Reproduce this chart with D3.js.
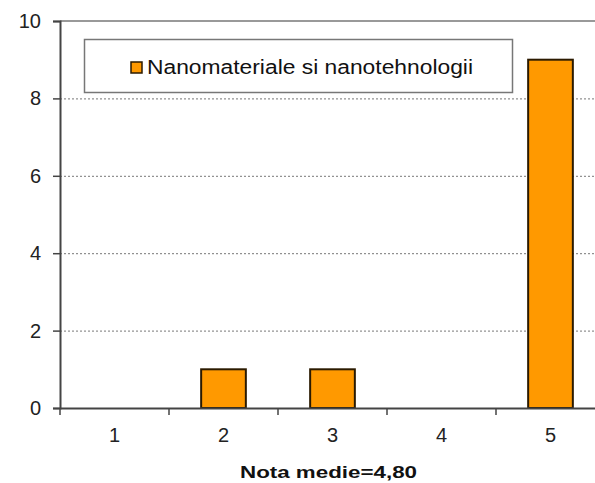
<!DOCTYPE html>
<html>
<head>
<meta charset="utf-8">
<script src="https://cdn.jsdelivr.net/npm/d3@7"></script>
<style>
  body { margin: 0; background: #fff; }
  svg { display: block; font-family: "Liberation Sans", Arial, sans-serif; }
</style>
</head>
<body>
<svg id="chart" width="595" height="483"></svg>
<script>
// chart data
const categories = ['1', '2', '3', '4', '5'];
const counts = [0, 1, 1, 0, 9];
const yTicks = [0, 2, 4, 6, 8, 10];
const seriesName = 'Nanomateriale si nanotehnologii';
const xTitle = 'Nota medie=4,80';

const svg = d3.select('#chart');
const plotLeft = 60, plotTop = 21, plotBottom = 408, plotRight = 605;

const x = d3.scaleBand().domain(categories).range([plotLeft, plotRight]).paddingInner(0.59).paddingOuter(0.295);
const xEdges = d3.scaleBand().domain(categories).range([plotLeft, plotRight]).padding(0);
const y = d3.scaleLinear().domain([0, 10]).range([plotBottom, plotTop]);

// grid lines (dotted) and top border
svg.append('g').selectAll('line')
  .data(yTicks.filter(d => d > 0 && d < 10))
  .enter().append('line')
  .attr('x1', plotLeft).attr('x2', 595)
  .attr('y1', d => y(d) + 0.5).attr('y2', d => y(d) + 0.5)
  .attr('stroke', '#777').attr('stroke-width', 1).attr('stroke-dasharray', '2,2');

svg.append('line')
  .attr('x1', plotLeft).attr('x2', 595)
  .attr('y1', y(10)).attr('y2', y(10))
  .attr('stroke', '#999').attr('stroke-width', 2);

// bars
svg.append('g').selectAll('rect')
  .data(counts)
  .enter().append('rect')
  .attr('x', (d, i) => x(categories[i]))
  .attr('y', d => y(d))
  .attr('width', x.bandwidth())
  .attr('height', d => plotBottom - y(d))
  .attr('fill', d => d > 0 ? '#ff9900' : 'none')
  .attr('stroke', d => d > 0 ? '#2b1a00' : 'none')
  .attr('stroke-width', 2);

// y axis
const yAxis = svg.append('g')
  .attr('transform', `translate(${plotLeft},0)`)
  .call(d3.axisLeft(y).tickValues(yTicks).tickSize(7).tickPadding(12));
yAxis.select('.domain').attr('stroke', '#444').attr('stroke-width', 2);
yAxis.selectAll('.tick line').attr('stroke', '#444').attr('stroke-width', 1.5);
yAxis.selectAll('.tick text').attr('font-size', 20).attr('fill', '#222')
  .attr('font-family', '"Liberation Sans", Arial, sans-serif');

// x axis
const xAxis = svg.append('g')
  .attr('transform', `translate(0,${plotBottom})`)
  .call(d3.axisBottom(xEdges).tickSize(0).tickPadding(20));
xAxis.select('.domain').attr('stroke', '#444').attr('stroke-width', 2);
xAxis.selectAll('.tick text').attr('font-size', 20).attr('fill', '#222')
  .attr('font-family', '"Liberation Sans", Arial, sans-serif');

// band boundary ticks
svg.append('g').selectAll('line')
  .data(categories)
  .enter().append('line')
  .attr('x1', d => xEdges(d)).attr('x2', d => xEdges(d))
  .attr('y1', plotBottom).attr('y2', plotBottom + 7)
  .attr('stroke', '#444').attr('stroke-width', 1.5);

// x title
svg.append('text')
  .attr('x', 240).attr('y', 478)
  .attr('font-size', 16).attr('font-weight', 'bold').attr('fill', '#111')
  .attr('textLength', 177).attr('lengthAdjust', 'spacingAndGlyphs')
  .text(xTitle);

// legend
const legend = svg.append('g');
legend.append('rect')
  .attr('x', 84.5).attr('y', 39.5).attr('width', 428).attr('height', 53)
  .attr('fill', '#fff').attr('stroke', '#777').attr('stroke-width', 1.5);
legend.append('rect')
  .attr('x', 131).attr('y', 62).attr('width', 11).attr('height', 11)
  .attr('fill', '#ff9900').attr('stroke', '#2b1a00').attr('stroke-width', 1.5);
legend.append('text')
  .attr('x', 147).attr('y', 74)
  .attr('font-size', 20).attr('fill', '#111')
  .attr('textLength', 326).attr('lengthAdjust', 'spacingAndGlyphs')
  .text(seriesName);
</script>
</body>
</html>
